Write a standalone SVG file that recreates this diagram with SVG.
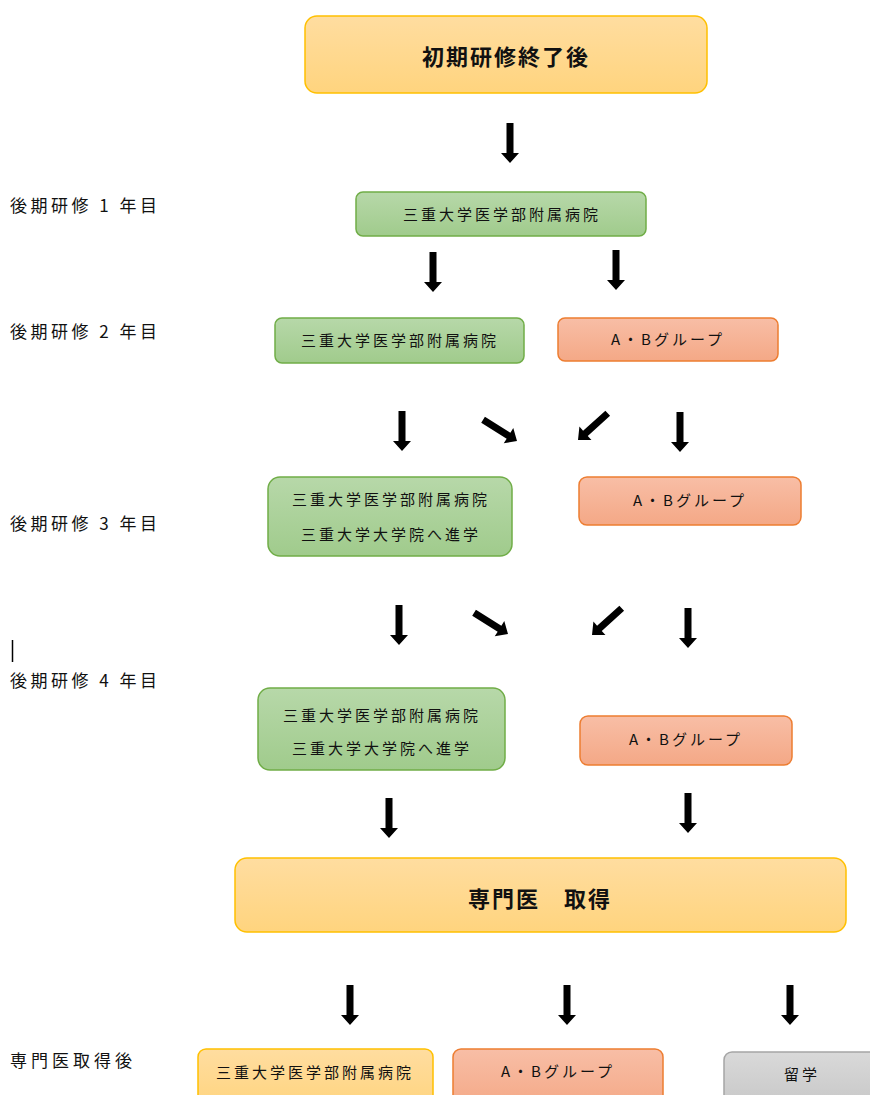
<svg xmlns="http://www.w3.org/2000/svg" width="870" height="1095" viewBox="0 0 870 1095">
<style>
.t{font-family:"Noto Sans CJK JP","Liberation Sans",sans-serif;font-size:15px;fill:#111;text-anchor:middle;letter-spacing:3px}
.b{font-family:"Noto Sans CJK JP","Liberation Sans",sans-serif;font-size:22px;font-weight:bold;fill:#111;text-anchor:middle;letter-spacing:2px}
.l{font-family:"Noto Sans CJK JP","Liberation Sans",sans-serif;font-size:17px;fill:#111;letter-spacing:3.5px}
.y{fill:url(#gy);stroke:#FFC000;stroke-width:1.5}
.g{fill:url(#gg);stroke:#70AD47;stroke-width:1.5}
.o{fill:url(#go);stroke:#ED7D31;stroke-width:1.5}
.s{fill:url(#gs);stroke:#A5A5A5;stroke-width:1.5}
.a{fill:#000}
</style>
<defs>
<linearGradient id="gy" x1="0" y1="0" x2="0" y2="1"><stop offset="0" stop-color="#FFDDA0"/><stop offset="1" stop-color="#FFD47E"/></linearGradient>
<linearGradient id="gg" x1="0" y1="0" x2="0" y2="1"><stop offset="0" stop-color="#B7D8A9"/><stop offset="1" stop-color="#A0CB8C"/></linearGradient>
<linearGradient id="go" x1="0" y1="0" x2="0" y2="1"><stop offset="0" stop-color="#F8BEA6"/><stop offset="1" stop-color="#F4A886"/></linearGradient>
<linearGradient id="gs" x1="0" y1="0" x2="0" y2="1"><stop offset="0" stop-color="#D9D9D9"/><stop offset="1" stop-color="#C6C6C6"/></linearGradient>
<path id="arr" d="M-3.5,-40 L3.5,-40 L3.5,-10 L9,-10 L0,0 L-9,-10 L-3.5,-10 Z"/>
</defs>

<g id="labels">
<text class="l" x="10" y="212">後期研修 1 年目</text>
<text class="l" x="10" y="338">後期研修 2 年目</text>
<text class="l" x="10" y="530">後期研修 3 年目</text>
<line x1="12.5" y1="640" x2="12.5" y2="662" stroke="#000" stroke-width="1.5"/>
<text class="l" x="10" y="687">後期研修 4 年目</text>
<text class="l" x="10" y="1067" style="letter-spacing:4px">専門医取得後</text>
</g>

<g id="n-top"><rect class="y" x="305" y="16" width="402" height="77" rx="12"/><text class="b" x="506" y="65">初期研修終了後</text></g>
<g id="n-y1"><rect class="g" x="356" y="192" width="290" height="44" rx="7"/><text class="t" x="502" y="220">三重大学医学部附属病院</text></g>
<g id="n-y2g"><rect class="g" x="275" y="318" width="249" height="45" rx="7"/><text class="t" x="400" y="346">三重大学医学部附属病院</text></g>
<g id="n-y2o"><rect class="o" x="558" y="318" width="220" height="43" rx="7"/><text class="t" x="668" y="345">A・Bグループ</text></g>
<g id="n-y3g"><rect class="g" x="268" y="477" width="244" height="79" rx="12"/><text class="t" x="391" y="505">三重大学医学部附属病院</text><text class="t" x="391" y="540">三重大学大学院へ進学</text></g>
<g id="n-y3o"><rect class="o" x="579" y="477" width="222" height="48" rx="8"/><text class="t" x="690" y="506">A・Bグループ</text></g>
<g id="n-y4g"><rect class="g" x="258" y="688" width="247" height="82" rx="12"/><text class="t" x="382" y="721">三重大学医学部附属病院</text><text class="t" x="382" y="754">三重大学大学院へ進学</text></g>
<g id="n-y4o"><rect class="o" x="580" y="716" width="212" height="49" rx="8"/><text class="t" x="686" y="745">A・Bグループ</text></g>
<g id="n-sen"><rect class="y" x="235" y="858" width="611" height="74" rx="12"/><text class="b" x="540" y="907">専門医　取得</text></g>
<g id="n-f1"><rect class="y" x="198" y="1049" width="235" height="60" rx="8"/><text class="t" x="315" y="1078">三重大学医学部附属病院</text></g>
<g id="n-f2"><rect class="o" x="453" y="1049" width="210" height="60" rx="8"/><text class="t" x="558" y="1077">A・Bグループ</text></g>
<g id="n-f3"><rect class="s" x="724" y="1052" width="160" height="60" rx="8"/><text class="t" x="802" y="1080">留学</text></g>

<g id="connectors" class="a">
<use href="#arr" transform="translate(510,163)"/>
<use href="#arr" transform="translate(433,292)"/>
<use href="#arr" transform="translate(616,290)"/>
<use href="#arr" transform="translate(402,451)"/>
<use href="#arr" transform="translate(517,441) rotate(-58)"/>
<use href="#arr" transform="translate(578,440) rotate(48)"/>
<use href="#arr" transform="translate(680,452)"/>
<use href="#arr" transform="translate(399,645)"/>
<use href="#arr" transform="translate(508,634) rotate(-58)"/>
<use href="#arr" transform="translate(592,635) rotate(48)"/>
<use href="#arr" transform="translate(688,648)"/>
<use href="#arr" transform="translate(389,838)"/>
<use href="#arr" transform="translate(688,833)"/>
<use href="#arr" transform="translate(350,1025)"/>
<use href="#arr" transform="translate(567,1025)"/>
<use href="#arr" transform="translate(790,1025)"/>
</g>
</svg>
